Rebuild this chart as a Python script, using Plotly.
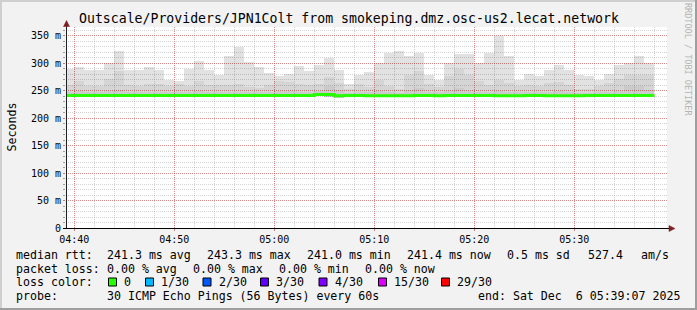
import plotly.graph_objects as go
import pandas as pd

# ---------------- data ----------------
bar_start = pd.date_range("2025-12-06 04:39:00", periods=59, freq="min")
bar_center = bar_start + pd.Timedelta(seconds=30)
bar_end = pd.Timestamp("2025-12-06 05:38:00")

smoke_max = [290, 292.6, 288.5, 288.5, 300.7, 321.8, 287, 287, 292.6, 288.5,
             270, 267, 290, 305, 288.5, 279.4, 314, 330, 302.5, 292.6,
             282.5, 276.3, 280, 294.7, 285.5, 296.7, 309, 287, 263, 279.4,
             283.6, 299.8, 319.4, 323, 314, 319.4, 279.2, 270, 299.8, 316,
             316, 300.7, 319.4, 349, 314, 270, 281, 276, 288.6, 296,
             287, 278, 276, 270, 281, 296.5, 300.7, 314, 300]
smoke_mid = [261, 267, 258, 258, 272, 285, 261, 258, 262, 262,
             258, 262, 258, 267, 261, 261, 261, 262, 256, 255,
             261, 267, 265, 262, 260, 262, 275, 264, 253, 262,
             256, 270, 258, 254, 278, 286, 262, 256, 276, 290,
             279, 267, 260, 270, 264, 258, 261, 258, 264, 265,
             261, 254, 254, 258, 264, 272, 279, 279, 279]
smoke_core = [248, 249, 247, 247, 250, 252, 248, 247, 248, 248,
              247, 248, 247, 249, 248, 248, 248, 248, 247, 247,
              248, 249, 249, 248, 248, 250, 258, 252, 246, 248,
              247, 249, 247, 246, 252, 255, 248, 247, 250, 255,
              250, 248, 247, 249, 248, 247, 248, 247, 248, 249,
              248, 246, 246, 247, 248, 250, 258, 258, 252]
smoke_min = [239.5] * 26 + [238.5, 237.5] + [239.5] * 31
median_rtt = [241.4] * 25 + [243.3, 243.3, 240.8, 241.4, 241.4,
              240.8, 240.8, 240.8, 240.8, 240.8, 241.4, 241.4, 240.8, 241.4, 241.4,
              241.4, 241.4, 241.4, 240.8, 240.8, 240.8, 241.4, 241.4, 240.8, 240.8,
              240.8, 240.8, 241.4, 241.4, 241.4, 241.4, 241.4, 241.4, 241.4]

y_tickvals = [0, 50, 100, 150, 200, 250, 300, 350]
y_ticktext = ["0", "50 m", "100 m", "150 m", "200 m", "250 m", "300 m", "350 m"]
x_tickvals = ["2025-12-06 04:40", "2025-12-06 04:50", "2025-12-06 05:00",
              "2025-12-06 05:10", "2025-12-06 05:20", "2025-12-06 05:30"]
x_ticktext = ["04:40", "04:50", "05:00", "05:10", "05:20", "05:30"]

title_text = "Outscale/Providers/JPN1Colt from smokeping.dmz.osc-us2.lecat.network"
line1 = ["median rtt:", "241.3 ms avg", "243.3 ms max", "241.0 ms min",
         "241.4 ms now", "0.5 ms sd", "527.4", "am/s"]
line2 = ["packet loss:", "0.00 % avg", "0.00 % max", "0.00 % min", "0.00 % now"]
loss_labels = ["0", "1/30", "2/30", "3/30", "4/30", "15/30", "29/30"]
loss_colors = ["#26ff00", "#00b8ff", "#0059ff", "#5e00ff", "#7e00ff", "#dd00ff", "#ff0000"]
line4 = ["probe:", "30 ICMP Echo Pings (56 Bytes) every 60s",
         "end: Sat Dec\u00a0\u00a06 05:39:07 2025"]

# ---------------- layout geometry ----------------
W, H = 697, 310
L, R, T, B = 66, 667, 27, 228
MONO = "DejaVu Sans Mono"


def px(x):
    return (x - L) / (R - L)


def py(y):
    return (B - y) / (B - T)


fig = go.Figure()

# smoke layers (translucent so the grid shows through)
for top, col in [(smoke_max, "rgba(0,0,0,0.115)"),
                 (smoke_mid, "rgba(0,0,0,0.055)"),
                 (smoke_core, "rgba(0,0,0,0.045)")]:
    fig.add_trace(go.Bar(
        x=bar_center, base=smoke_min,
        y=[t - b for t, b in zip(top, smoke_min)],
        width=60000, marker=dict(color=col, line=dict(width=0)),
        hoverinfo="skip", showlegend=False))

# median line
fig.add_trace(go.Scatter(
    x=list(bar_start) + [bar_end], y=median_rtt + [median_rtt[-1]],
    mode="lines", line=dict(color=loss_colors[0], width=3, shape="hv"),
    hoverinfo="skip", showlegend=False))

annotations = []


def txt(x, y, s, size=11.6, color="#000000", anchor="left", angle=0):
    annotations.append(dict(
        x=px(x), y=py(y), xref="paper", yref="paper", text=s, showarrow=False,
        xanchor=anchor, yanchor="middle", textangle=angle, borderpad=0,
        borderwidth=0, font=dict(family=MONO, size=size, color=color)))


txt(348.5, 19, title_text, size=13.2, anchor="center")
txt(11, 127.5, "Seconds", anchor="center", angle=-90)
txt(688, 59, "RRDTOOL / TOBI OETIKER", size=8.5, color="#b4b4b4", anchor="center", angle=90)

for s, x in zip(line1, [16, 107, 207, 307, 407, 507, 588, 641]):
    txt(x, 255, s)
for s, x in zip(line2, [16, 107, 193, 279, 365]):
    txt(x, 268.5, s)
txt(16, 282, "loss color:")
box_x = [108.5, 145.5, 203, 260.5, 319, 378.5, 441.5]
shapes = []
for lab, col, bx in zip(loss_labels, loss_colors, box_x):
    txt(bx + 15.5, 282, lab)
    shapes.append(dict(type="rect", xref="paper", yref="paper",
                       x0=px(bx), x1=px(bx + 8), y0=py(286), y1=py(278),
                       fillcolor=col, line=dict(color="#000000", width=1), layer="above"))
for s, x in zip(line4, [16, 107, 478]):
    txt(x, 296, s)

# frame shading
for x0, x1, y0, y1, c in [(0, W, 0, 2, "#cfcfcf"), (0, 2, 0, H, "#cfcfcf"),
                          (0, W, H - 2, H, "#9e9e9e"), (W - 2, W, 0, H, "#9e9e9e")]:
    shapes.append(dict(type="rect", xref="paper", yref="paper",
                       x0=px(x0), x1=px(x1), y0=py(y1), y1=py(y0),
                       fillcolor=c, line=dict(width=0), layer="above"))

# axes lines and arrows
shapes.append(dict(type="line", xref="paper", yref="paper", x0=px(66.5), x1=px(66.5),
                   y0=py(228.5), y1=py(24), line=dict(color="#202020", width=1), layer="above"))
shapes.append(dict(type="line", xref="paper", yref="paper", x0=px(63), x1=px(670),
                   y0=py(228.5), y1=py(228.5), line=dict(color="#000000", width=1), layer="above"))
ARROW = "#7f1f1f"
shapes.append(dict(type="path", xref="paper", yref="paper",
                   path=f"M {px(63.5)} {py(26.5)} L {px(66.5)} {py(20.5)} L {px(69.5)} {py(26.5)} Z",
                   fillcolor=ARROW, line=dict(color=ARROW, width=0.5), layer="above"))
shapes.append(dict(type="path", xref="paper", yref="paper",
                   path=f"M {px(669)} {py(225.5)} L {px(675)} {py(228.5)} L {px(669)} {py(231.5)} Z",
                   fillcolor=ARROW, line=dict(color=ARROW, width=0.5), layer="above"))

MAJOR = "rgba(222,80,80,0.55)"
MINOR = "rgba(143,143,143,0.38)"

fig.update_layout(
    width=W, height=H, margin=dict(l=L, r=W - R, t=T, b=H - B),
    paper_bgcolor="#f2f2f2", plot_bgcolor="#ffffff",
    barmode="overlay", bargap=0, showlegend=False,
    annotations=annotations, shapes=shapes,
    font=dict(family=MONO, size=10, color="#000000"),
    xaxis=dict(type="date", range=["2025-12-06 04:39:10", "2025-12-06 05:39:16"],
               tickvals=x_tickvals, ticktext=x_ticktext,
               showgrid=True, gridcolor=MAJOR, griddash="1px,1px", gridwidth=1,
               ticks="outside", ticklen=2, tickcolor="#c08080",
               zeroline=False, showline=False, fixedrange=True,
               tickfont=dict(family=MONO, size=10),
               minor=dict(tick0="2025-12-06 04:40", dtick=120000, showgrid=True,
                          gridcolor=MINOR, griddash="1px,1px", gridwidth=1)),
    yaxis=dict(range=[0, 366], tickvals=y_tickvals, ticktext=y_ticktext,
               showgrid=True, gridcolor=MAJOR, griddash="1px,1px", gridwidth=1,
               ticks="outside", ticklen=2, tickcolor="#c08080",
               zeroline=False, showline=False, fixedrange=True,
               tickfont=dict(family=MONO, size=10),
               minor=dict(tick0=0, dtick=10, showgrid=True, ticks="outside", ticklen=2,
                          tickcolor="#a0a0a0",
                          gridcolor=MINOR, griddash="1px,1px", gridwidth=1)),
)

fig.write_html("out.html", config={"displayModeBar": False})
